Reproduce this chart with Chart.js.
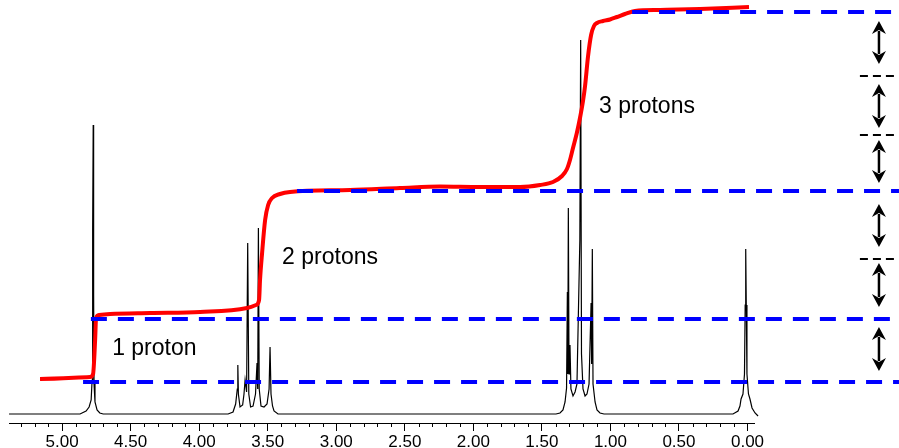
<!DOCTYPE html>
<html><head><meta charset="utf-8">
<script src="https://cdn.jsdelivr.net/npm/chart.js@4.4.0/dist/chart.umd.min.js"></script>
<style>html,body{margin:0;padding:0;background:#fff;}canvas{display:block;}</style>
</head><body>
<canvas id="c" width="899" height="448"></canvas>
<script>
// ---- Spectrum trace (chemical shift in ppm, intensity in arbitrary units) ----
const spectrumPpm = [5.387, 4.869, 4.825, 4.803, 4.788, 4.781, 4.777, 4.773, 4.770, 4.767, 4.760, 4.745, 4.725, 4.700,
  3.789, 3.753, 3.734, 3.722, 3.718, 3.714, 3.702, 3.683, 3.673, 3.665, 3.654, 3.646, 3.638, 3.625, 3.607, 3.589, 3.578, 3.573, 3.568, 3.562, 3.549, 3.527, 3.505, 3.490, 3.483, 3.476, 3.465, 3.454, 3.425,
  1.397, 1.368, 1.346, 1.331, 1.320, 1.314, 1.311, 1.307, 1.302, 1.295, 1.288, 1.273, 1.258, 1.244, 1.223, 1.217, 1.211, 1.200, 1.185, 1.171, 1.156, 1.141, 1.137, 1.132, 1.127, 1.112, 1.098, 1.076, 1.047,
  0.106, 0.069, 0.055, 0.047, 0.033, 0.022, 0.017, 0.013, 0.009, 0.004, -0.007, -0.018, -0.033, -0.055, -0.077];
const spectrumIntensity = [0, 0, 3, 7, 14, 34, 184, 289, 120, 30, 12, 4, 1, 0,
  0, 2, 10, 25, 49, 20, 7, 9, 20, 34, 22, 171, 20, 7, 8, 20, 51, 25, 186, 25, 8, 7, 10, 25, 67, 20, 8, 3, 0,
  0, 1, 4, 12, 26, 122, 40, 206, 40, 69, 25, 18, 22, 30, 174, 374, 60, 25, 18, 20, 30, 111, 50, 165, 30, 12, 4, 1, 0,
  0, 3, 8, 15, 20, 40, 109, 165, 109, 40, 20, 15, 6, 1, -2];

// ---- Integral curve ----
const integralPpm = [5.161, 4.796, 4.774, 4.759, 4.752, 4.730, 4.650, 4.358, 3.993, 3.651, 3.585, 3.563, 3.556, 3.541, 3.519, 3.497, 3.468, 3.410, 3.337, 2.900, 2.535, 2.243, 1.951, 1.659, 1.513, 1.419, 1.353, 1.317, 1.295, 1.273, 1.245, 1.222, 1.200, 1.185, 1.163, 1.141, 1.120, 1.098, 1.054, 1.003, 0.952, 0.894, 0.821, 0.638, 0.346, -0.011];
const integralValue = [35, 37, 40, 74, 96, 99, 100, 101, 102, 106, 109, 114, 134, 161, 194, 209, 216, 220, 222, 224, 226, 227.5, 227, 227, 229, 232, 238, 245, 254, 266, 281, 296, 313, 328, 358, 379, 388, 391, 393, 394.5, 397, 400, 403, 404, 405, 407];

// ---- Axis tick labels ----
const tickValues = [5.00, 4.50, 4.00, 3.50, 3.00, 2.50, 2.00, 1.50, 1.00, 0.50, 0.00];

// ---- Integration step levels (blue dashed guides) ----
const stepLevels = [32, 95, 223, 402];
const stepStartPpm = [4.847, 4.790, 3.286, 0.842];
const stepEndPpm = [-1.105, -1.047, -1.105, -1.105];

// ---- Single-proton subdivisions and arrows ----
const subLevels = [338, 279, 155];
const subStartPpm = [-0.820, -0.820, -0.820];
const subEndPpm = [-1.090, -1.090, -1.090];
const arrowFrom = [393, 330, 274, 210, 151, 87];
const arrowTo = [350, 286, 231, 167, 107, 43];
const arrowPpm = -0.959;

// ---- Annotations ----
const labelTexts = ['1 proton', '2 protons', '3 protons'];
const labelPpm = [4.635, 3.395, 1.083];
const labelValue = [59, 150, 301];

const spectrumData = spectrumPpm.map((x, i) => ({x, y: spectrumIntensity[i]}));
const integralData = integralPpm.map((x, i) => ({x, y: integralValue[i]}));
const stepSets = stepLevels.map((lv, i) => ({
  data: [{x: stepStartPpm[i], y: lv}, {x: stepEndPpm[i], y: lv}],
  borderColor: '#0000ff', borderWidth: 4, borderDash: [16, 11], pointRadius: 0,
  clip: false, order: 0, tension: 0
}));

const annot = {
  id: 'annot',
  afterDatasetsDraw(chart) {
    const ctx = chart.ctx, xs = chart.scales.x, ys = chart.scales.y;
    ctx.save();
    // minor ticks
    ctx.strokeStyle = '#000'; ctx.lineWidth = 1;
    const b = chart.chartArea.bottom;
    for (let i = 0; i <= 53; i++) {
      if (i % 5 === 0) continue;
      const px = Math.round(xs.getPixelForValue(i / 10)) + 0.5;
      ctx.beginPath(); ctx.moveTo(px, b); ctx.lineTo(px, b + 4); ctx.stroke();
    }
    // black short dashed lines
    ctx.setLineDash([8, 5]); ctx.lineWidth = 2;
    subLevels.forEach((lv, i) => {
      const y = ys.getPixelForValue(lv);
      ctx.beginPath(); ctx.moveTo(xs.getPixelForValue(subStartPpm[i]), y);
      ctx.lineTo(xs.getPixelForValue(subEndPpm[i]), y); ctx.stroke();
    });
    ctx.setLineDash([]);
    // arrows
    const ax = xs.getPixelForValue(arrowPpm);
    ctx.fillStyle = '#000'; ctx.lineWidth = 2.5;
    arrowFrom.forEach((f, i) => {
      const y1 = ys.getPixelForValue(f), y2 = ys.getPixelForValue(arrowTo[i]);
      const h = 13, w = 7;
      ctx.beginPath(); ctx.moveTo(ax, y1 + h - 3); ctx.lineTo(ax, y2 - h + 3); ctx.stroke();
      ctx.beginPath(); ctx.moveTo(ax, y1); ctx.lineTo(ax - w, y1 + h); ctx.lineTo(ax, y1 + h - 4); ctx.lineTo(ax + w, y1 + h); ctx.closePath(); ctx.fill();
      ctx.beginPath(); ctx.moveTo(ax, y2); ctx.lineTo(ax - w, y2 - h); ctx.lineTo(ax, y2 - h + 4); ctx.lineTo(ax + w, y2 - h); ctx.closePath(); ctx.fill();
    });
    // text labels
    ctx.font = '23px "Liberation Sans", Arial, sans-serif';
    ctx.textBaseline = 'alphabetic'; ctx.textAlign = 'left';
    labelTexts.forEach((t, i) => {
      ctx.fillText(t, xs.getPixelForValue(labelPpm[i]), ys.getPixelForValue(labelValue[i]));
    });
    ctx.restore();
  }
};

new Chart(document.getElementById('c'), {
  type: 'line',
  data: {
    datasets: [
      ...stepSets,
      {data: integralData, borderColor: '#ff0000', borderWidth: 4, pointRadius: 0, cubicInterpolationMode: 'monotone', order: 1, clip: false},
      {data: spectrumData, borderColor: '#000000', borderWidth: 1.2, pointRadius: 0, tension: 0, order: 2, clip: false}
    ]
  },
  options: {
    responsive: false, animation: false, devicePixelRatio: 1,
    layout: {padding: {left: 9, right: 145, top: 0, bottom: 0}},
    plugins: {legend: {display: false}, tooltip: {enabled: false}},
    scales: {
      x: {
        type: 'linear', reverse: true, min: -0.0474, max: 5.3873,
        afterBuildTicks(scale) { scale.ticks = tickValues.map(v => ({value: v})); },
        afterFit(scale) { scale.height = 25; },
        grid: {drawOnChartArea: false, tickLength: 8, color: '#000', tickColor: '#000'},
        border: {display: true, color: '#000', width: 1},
        ticks: {color: '#000', padding: 1, maxRotation: 0, autoSkip: false,
          font: {family: '"Liberation Sans Narrow", "Liberation Sans", Arial, sans-serif', size: 17},
          callback: v => Number(v).toFixed(2)}
      },
      y: {type: 'linear', display: false, min: -9, max: 414}
    }
  },
  plugins: [annot]
});
</script>
</body></html>
